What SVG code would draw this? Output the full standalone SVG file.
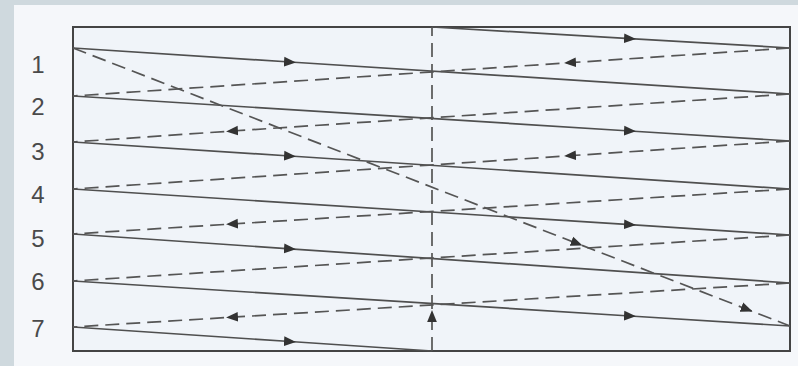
<svg xmlns="http://www.w3.org/2000/svg" width="798" height="366" viewBox="0 0 798 366">
<style>
.lbl{font-family:"Liberation Sans",Arial,sans-serif;font-size:24px;fill:#4a4a4a;text-anchor:middle}
.s{fill:none;stroke:#4f4f4f;stroke-width:1.7;marker-mid:url(#ah)}
.d{fill:none;stroke:#555;stroke-width:1.7;stroke-dasharray:14 7;marker-mid:url(#ah)}
.frame{fill:#f0f4f9;stroke:#444;stroke-width:2}
</style>
<defs>
<marker id="ah" markerUnits="userSpaceOnUse" markerWidth="13" markerHeight="11" refX="5.5" refY="4.5" orient="auto" viewBox="0 0 12 9">
<path d="M0,0 L11,4.5 L0,9 Z" fill="#333" stroke="none"/>
</marker>
</defs>
<rect x="0" y="0" width="798" height="366" fill="#cfd9de"/>
<rect x="14" y="5" width="784" height="361" fill="#f5f7fa"/>
<g id="frame"><rect class="frame" x="73" y="27" width="717" height="324"/></g>
<g id="labels">
<text class="lbl" x="38" y="73">1</text>
<text class="lbl" x="38" y="115">2</text>
<text class="lbl" x="38" y="160">3</text>
<text class="lbl" x="38" y="203">4</text>
<text class="lbl" x="38" y="247">5</text>
<text class="lbl" x="38" y="290">6</text>
<text class="lbl" x="38" y="337">7</text>
</g>
<g id="connectors">
<path class="s" d="M432,27 L630,38.6 L790,48"/>
<path class="s" d="M73,48 L290,62 L790,94"/>
<path class="s" d="M73,96 L630,131 L790,141"/>
<path class="s" d="M73,142 L290,156 L790,189"/>
<path class="s" d="M73,189 L630,224.7 L790,235"/>
<path class="s" d="M73,234 L290,248.8 L790,283"/>
<path class="s" d="M73,281 L630,316 L790,326"/>
<path class="s" d="M73,327 L290,341.5 L432,351"/>
<path class="d" d="M790,48 L570,62.7 L73,96"/>
<path class="d" d="M790,94 L232,131 L73,142"/>
<path class="d" d="M790,141 L570,155.7 L73,189"/>
<path class="d" d="M790,189 L232,224 L73,234"/>
<path class="d" d="M790,235 L73,281"/>
<path class="d" d="M790,283 L232,317.2 L73,327"/>
<path class="d" d="M73,48 L577,243.4 L747,309.3 L790,326"/>
<path class="d" d="M432,351 L432,316 L432,27"/>
</g>
</svg>
